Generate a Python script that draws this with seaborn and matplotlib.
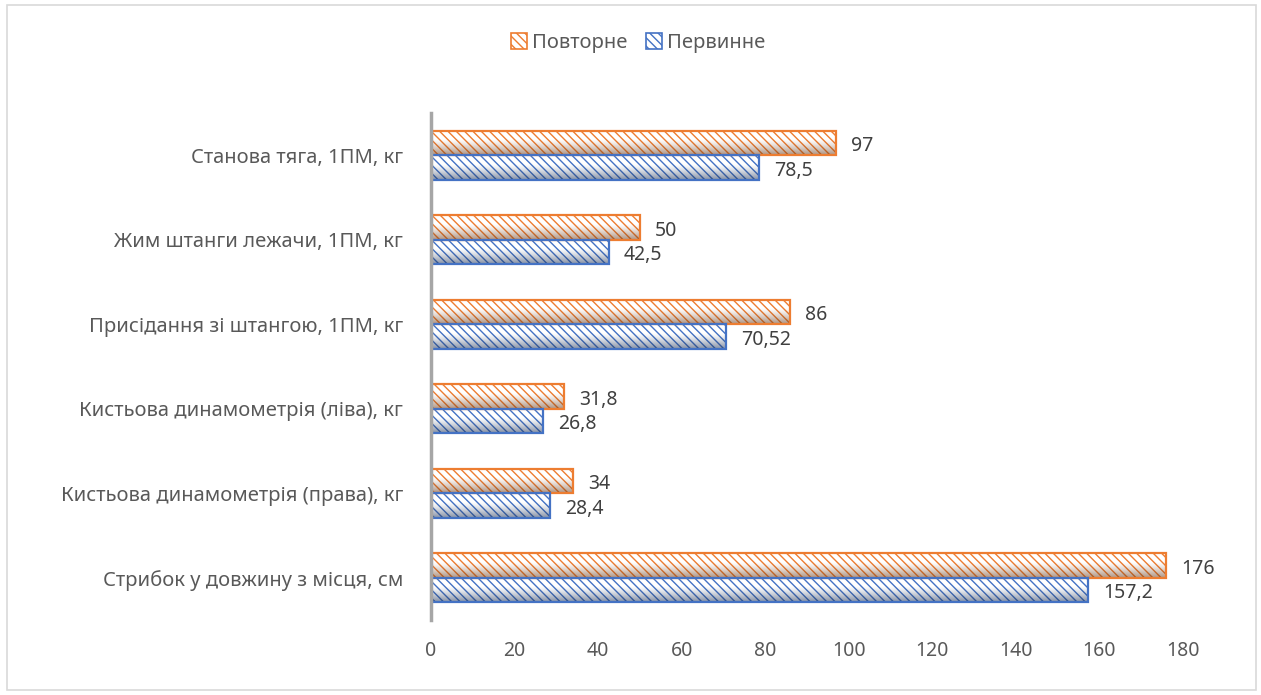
import numpy as np
import pandas as pd
import matplotlib
matplotlib.use("Agg")
import matplotlib.pyplot as plt
import seaborn as sns
from matplotlib.patches import Rectangle, Patch
from matplotlib.colors import to_rgb

# Test results: repeated vs initial measurement
categories = [
    "Станова тяга, 1ПМ, кг",
    "Жим штанги лежачи, 1ПМ, кг",
    "Присідання зі штангою, 1ПМ, кг",
    "Кистьова динамометрія (ліва), кг",
    "Кистьова динамометрія (права), кг",
    "Стрибок у довжину з місця, см",
]
repeat_vals = [97, 50, 86, 31.8, 34, 176]
initial_vals = [78.5, 42.5, 70.52, 26.8, 28.4, 157.2]
series_names = ["Повторне", "Первинне"]
x_ticks = [0, 20, 40, 60, 80, 100, 120, 140, 160, 180]

colors = {"Повторне": "#ED7D31", "Первинне": "#4472C4"}
text_color = "#595959"
label_color = "#404040"

sns.set_theme(style="white")
plt.rcParams["font.family"] = ["Noto Sans", "DejaVu Sans"]
plt.rcParams["hatch.linewidth"] = 1.0

df = pd.DataFrame({
    "category": categories * 2,
    "value": repeat_vals + initial_vals,
    "series": [series_names[0]] * len(categories) + [series_names[1]] * len(categories),
})

W, H = 1261, 695
fig = plt.figure(figsize=(W / 100, H / 100), dpi=100)
ax = fig.add_axes([431 / W, 1 - 620 / H, (1183 - 431) / W, (620 - 113) / H])

sns.barplot(data=df, y="category", x="value", hue="series", hue_order=series_names,
            order=categories, palette=colors, orient="h", width=0.58, ax=ax,
            legend=False, errorbar=None)

ax.set_xlim(0, 180)
ax.set_ylim(len(categories) - 0.5, -0.5)


def fmt(v):
    return f"{v:g}".replace(".", ",")


# cylinder-like styling: hatched bars with a darker lower half
for container, name in zip(ax.containers, series_names):
    col = colors[name]
    rgb = np.array(to_rgb(col))
    dark = rgb * 0.45
    for bar, val in zip(container, df.loc[df.series == name, "value"]):
        bar.set_facecolor("white")
        bar.set_edgecolor(col)
        bar.set_hatch("\\\\\\\\")
        bar.set_linewidth(0)
        x0, y0 = bar.get_x(), bar.get_y()
        w, h = bar.get_width(), bar.get_height()
        n = 60
        t = np.linspace(0, 1, n)
        alpha = np.clip((t - 0.35) / 0.65, 0, 1) ** 1.3 * 0.55
        grad = np.zeros((n, 1, 4))
        grad[:, 0, :3] = dark
        grad[:, 0, 3] = alpha
        ax.imshow(grad, extent=(x0, x0 + w, y0 + h, y0), origin="upper",
                  aspect="auto", zorder=bar.get_zorder() + 0.1, interpolation="bilinear")
        ax.add_patch(Rectangle((x0, y0), w, h, fill=False, edgecolor=col,
                               linewidth=1.6, zorder=bar.get_zorder() + 0.2))
        ax.text(val + 3.6, y0 + h / 2 + 0.04, fmt(val), ha="left", va="center",
                fontsize=14, color=label_color, zorder=5)

ax.set_xlim(0, 180)
ax.set_ylim(len(categories) - 0.5, -0.5)
ax.set_aspect("auto")

ax.set_xticks(x_ticks)
ax.set_xticklabels([str(v) for v in x_ticks])
ax.set_xlabel("")
ax.set_ylabel("")
ax.tick_params(axis="x", length=0, pad=15, labelsize=14, labelcolor=text_color)
ax.tick_params(axis="y", length=0, pad=20, labelsize=14.5, labelcolor=text_color)
for side in ["top", "right", "bottom"]:
    ax.spines[side].set_visible(False)
ax.spines["left"].set_color("#A6A6A6")
ax.spines["left"].set_linewidth(2.5)
ax.grid(False)

handles = [Patch(facecolor="white", edgecolor=colors[n], hatch="\\\\\\\\", linewidth=1.2, label=n)
           for n in series_names]
fig.legend(handles=handles, loc="center", bbox_to_anchor=(638 / W, 1 - 43 / H), ncol=2,
           frameon=False, fontsize=14.5, handlelength=0.8, handleheight=0.8,
           handletextpad=0.25, columnspacing=0.9, labelcolor=text_color)

# chart area border
fig.patches.append(Rectangle((7 / W, 5 / H), (1256 - 7) / W, (690 - 5) / H,
                             transform=fig.transFigure, fill=False,
                             edgecolor="#D9D9D9", linewidth=1.2))

fig.savefig("out.png", dpi=100, facecolor="white")
